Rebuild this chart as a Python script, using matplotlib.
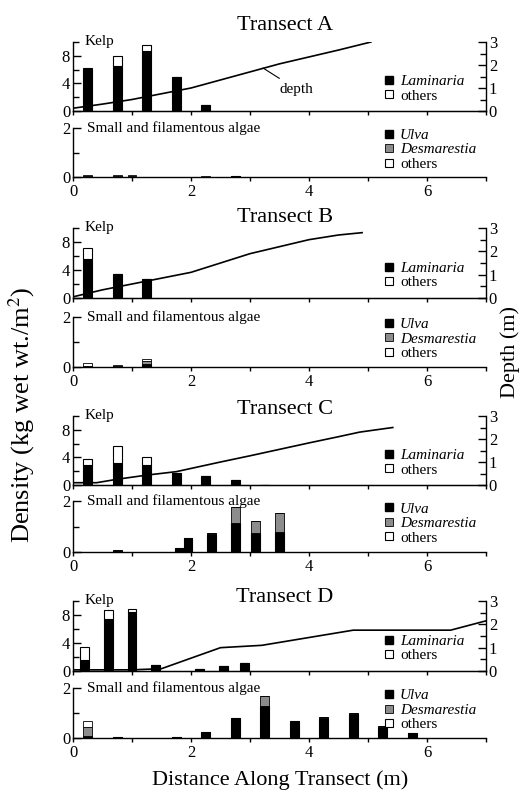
import numpy as np
import matplotlib
matplotlib.use('Agg')
import matplotlib.pyplot as plt
from matplotlib.lines import Line2D
from matplotlib.ticker import MultipleLocator

plt.rcParams['font.family'] = ['Liberation Serif', 'DejaVu Serif']
plt.rcParams['mathtext.fontset'] = 'stix'

# ---- kelp density (kg wet wt./m^2): Laminaria with others stacked on top
kelp_x_a = [0.25, 0.75, 1.25, 1.75, 2.25]
lam_a = [6.1, 6.5, 8.7, 4.9, 0.8]
kelp_oth_a = [0.2, 1.4, 0.8, 0.0, 0.0]

kelp_x_b = [0.25, 0.75, 1.25]
lam_b = [5.6, 3.5, 2.7]
kelp_oth_b = [1.6, 0.0, 0.0]

kelp_x_c = [0.25, 0.75, 1.25, 1.75, 2.25, 2.75, 3.25]
lam_c = [2.9, 3.2, 2.9, 1.7, 1.3, 0.7, 0.05]
kelp_oth_c = [0.8, 2.4, 1.1, 0.0, 0.0, 0.0, 0.0]

kelp_x_d = [0.2, 0.6, 1.0, 1.4, 2.15, 2.55, 2.9]
lam_d = [1.6, 7.5, 8.5, 0.9, 0.25, 0.7, 1.2]
kelp_oth_d = [1.8, 1.2, 0.3, 0.0, 0.0, 0.0, 0.0]

# ---- small and filamentous algae: Ulva, Desmarestia, others stacked
alg_x_a = [0.25, 0.75, 1.0, 2.25, 2.75]
ulva_a = [0.03, 0.03, 0.02, 0.02, 0.03]
desm_a = [0.0, 0.02, 0.02, 0.0, 0.0]
alg_oth_a = [0.05, 0.04, 0.03, 0.02, 0.02]

alg_x_b = [0.25, 0.75, 1.25]
ulva_b = [0.02, 0.03, 0.1]
desm_b = [0.0, 0.02, 0.12]
alg_oth_b = [0.12, 0.02, 0.1]

alg_x_c = [0.75, 1.8, 1.95, 2.35, 2.75, 3.1, 3.5]
ulva_c = [0.05, 0.15, 0.53, 0.72, 1.12, 0.73, 0.77]
desm_c = [0.02, 0.0, 0.0, 0.03, 0.64, 0.5, 0.75]
alg_oth_c = [0.0, 0.0, 0.0, 0.0, 0.0, 0.0, 0.0]

alg_x_d = [0.25, 0.75, 1.75, 2.25, 2.75, 3.25, 3.75, 4.25, 4.75, 5.25, 5.75]
ulva_d = [0.1, 0.03, 0.05, 0.24, 0.82, 1.27, 0.7, 0.8, 0.98, 0.44, 0.2]
desm_d = [0.35, 0.0, 0.0, 0.0, 0.0, 0.4, 0.0, 0.05, 0.04, 0.06, 0.0]
alg_oth_d = [0.22, 0.0, 0.0, 0.0, 0.0, 0.0, 0.0, 0.0, 0.0, 0.0, 0.0]

# ---- water depth (m) along each transect
depth_x_a = [0, 0.5, 1, 1.5, 2, 2.5, 3, 3.5, 4, 4.5, 5.05]
depth_a = [0.12, 0.3, 0.5, 0.75, 1.0, 1.35, 1.7, 2.05, 2.35, 2.65, 3.0]

depth_x_b = [0, 0.5, 1, 1.5, 2, 2.5, 3, 3.5, 4, 4.5, 4.9]
depth_b = [0.05, 0.35, 0.6, 0.85, 1.1, 1.5, 1.9, 2.2, 2.5, 2.7, 2.8]

depth_x_c = [0, 0.4, 0.75, 1.25, 1.75, 2.5, 3, 3.5, 4, 4.5, 4.86, 5.42]
depth_c = [0.1, 0.1, 0.25, 0.43, 0.58, 1.0, 1.27, 1.55, 1.83, 2.1, 2.3, 2.5]

depth_x_d = [0, 1.0, 1.5, 2.5, 3.2, 4.75, 6.4, 7.0]
depth_d = [0.05, 0.05, 0.1, 1.0, 1.1, 1.75, 1.75, 2.15]

W, H = 530, 794
BW = 0.15
GREY = '#8c8c8c'


def px_axes(fig, top, bottom, left=73, right=486):
    # place an axes from pixel edges measured from the top-left corner
    return fig.add_axes([left / W, 1 - bottom / H, (right - left) / W, (bottom - top) / H])


def style_axes(ax):
    ax.spines['top'].set_visible(False)
    ax.spines['right'].set_visible(False)
    for s in ax.spines.values():
        s.set_linewidth(1.0)
    ax.set_xlim(0, 7)
    ax.xaxis.set_major_locator(MultipleLocator(1))
    ax.tick_params(axis='x', direction='out', length=3, width=1, labelsize=12, pad=2)
    ax.tick_params(axis='y', which='major', direction='in', length=6, width=1, labelsize=12, pad=2)
    ax.tick_params(axis='y', which='minor', direction='in', length=4, width=1)


def draw_transect(fig, rows, name, kelp, algae, depth, depth_note=False):
    kelp_top, kelp_bot, alg_top, alg_bot, title_y = rows
    kx, lam, koth = kelp
    ax_x, ulva, desm, aoth = algae
    dx, dy = depth

    # kelp panel
    ak = px_axes(fig, kelp_top, kelp_bot)
    style_axes(ak)
    ak.bar(kx, lam, width=BW, color='black', edgecolor='black', lw=0.8)
    ak.bar(kx, koth, bottom=lam, width=BW, color='white', edgecolor='black', lw=0.8)
    ak.set_ylim(0, 10)
    ak.set_yticks([0, 4, 8])
    ak.yaxis.set_minor_locator(MultipleLocator(2))
    ak.set_xticklabels([])
    ak.text(0.2, 10.1, 'Kelp', fontsize=11, va='center')

    handles = [Line2D([], [], marker='s', ls='none', mfc='black', mec='black', ms=5.5),
               Line2D([], [], marker='s', ls='none', mfc='white', mec='black', ms=5.5, mew=0.8)]
    leg = ak.legend(handles, ['Laminaria', 'others'], loc='center left',
                    bbox_to_anchor=(0.755, 0.325), frameon=False, fontsize=11,
                    handlelength=0.6, handletextpad=0.4, labelspacing=0.05,
                    borderpad=0, borderaxespad=0)
    leg.get_texts()[0].set_fontstyle('italic')

    # depth on the right-hand axis
    ad = ak.twinx()
    ad.set_ylim(0, 3)
    ad.plot(dx, dy, color='black', lw=1.2)
    ad.spines['top'].set_visible(False)
    ad.spines['left'].set_visible(False)
    ad.spines['right'].set_linewidth(1.0)
    ad.set_yticks([0, 1, 2, 3])
    ad.yaxis.set_minor_locator(MultipleLocator(0.5))
    ad.tick_params(axis='y', which='major', direction='in', length=6, width=1, labelsize=12, pad=2)
    ad.tick_params(axis='y', which='minor', direction='in', length=4, width=1)
    if depth_note:
        ad.annotate('depth', xy=(3.22, 1.87), xytext=(3.5, 0.95), fontsize=11,
                    va='center', ha='left',
                    arrowprops=dict(arrowstyle='-', lw=0.8, color='black', shrinkB=0))

    # small and filamentous algae panel
    aa = px_axes(fig, alg_top, alg_bot)
    style_axes(aa)
    b1 = np.array(ulva)
    b2 = b1 + np.array(desm)
    aa.bar(ax_x, ulva, width=BW, color='black', edgecolor='black', lw=0.8)
    aa.bar(ax_x, desm, bottom=b1, width=BW, color=GREY, edgecolor='black', lw=0.6)
    aa.bar(ax_x, aoth, bottom=b2, width=BW, color='white', edgecolor='black', lw=0.6)
    aa.set_ylim(0, 2)
    aa.set_yticks([0, 2])
    aa.yaxis.set_minor_locator(MultipleLocator(1))
    aa.set_xticks([0, 2, 4, 6])
    aa.xaxis.set_minor_locator(MultipleLocator(1))
    aa.tick_params(axis='x', which='minor', direction='out', length=3, width=1)
    aa.text(0.23, 2.0, 'Small and filamentous algae', fontsize=11, va='center')

    handles = [Line2D([], [], marker='s', ls='none', mfc='black', mec='black', ms=5.5),
               Line2D([], [], marker='s', ls='none', mfc=GREY, mec='black', ms=5.5, mew=0.6),
               Line2D([], [], marker='s', ls='none', mfc='white', mec='black', ms=5.5, mew=0.8)]
    leg = aa.legend(handles, ['Ulva', 'Desmarestia', 'others'], loc='center left',
                    bbox_to_anchor=(0.755, 0.56), frameon=False, fontsize=11,
                    handlelength=0.6, handletextpad=0.4, labelspacing=0.05,
                    borderpad=0, borderaxespad=0)
    leg.get_texts()[0].set_fontstyle('italic')
    leg.get_texts()[1].set_fontstyle('italic')

    fig.text(285 / W, 1 - title_y / H, name, fontsize=16, ha='center', va='center')


fig = plt.figure(figsize=(W / 100, H / 100), dpi=100)

draw_transect(fig, (42, 111, 128, 177, 25), 'Transect A',
              (kelp_x_a, lam_a, kelp_oth_a), (alg_x_a, ulva_a, desm_a, alg_oth_a),
              (depth_x_a, depth_a), depth_note=True)
draw_transect(fig, (228, 298, 317, 367, 218), 'Transect B',
              (kelp_x_b, lam_b, kelp_oth_b), (alg_x_b, ulva_b, desm_b, alg_oth_b),
              (depth_x_b, depth_b))
draw_transect(fig, (416, 485, 501, 552, 410), 'Transect C',
              (kelp_x_c, lam_c, kelp_oth_c), (alg_x_c, ulva_c, desm_c, alg_oth_c),
              (depth_x_c, depth_c))
draw_transect(fig, (601, 671, 688, 738, 597), 'Transect D',
              (kelp_x_d, lam_d, kelp_oth_d), (alg_x_d, ulva_d, desm_d, alg_oth_d),
              (depth_x_d, depth_d))

fig.text(22 / W, 1 - 415 / H, 'Density (kg wet wt./m$^2$)', rotation=90,
         fontsize=19, ha='center', va='center')
fig.text(510 / W, 1 - 352 / H, 'Depth (m)', rotation=90,
         fontsize=16, ha='center', va='center')
fig.text(280 / W, 1 - 780 / H, 'Distance Along Transect (m)',
         fontsize=16, ha='center', va='center')

fig.savefig('out.png', dpi=100)
